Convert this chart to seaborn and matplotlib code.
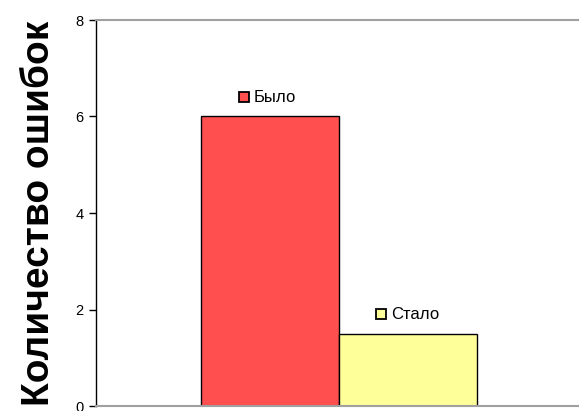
import seaborn as sns
import matplotlib.pyplot as plt
import matplotlib.transforms as mtransforms
import pandas as pd

# данные
labels = ["Было", "Стало"]
values = [6, 1.5]
colors = ["#ff4f4f", "#ffff99"]

df = pd.DataFrame({"grp": ["", ""], "state": labels, "count": values})

sns.set_style("white")
plt.rcParams['font.family'] = ['Liberation Sans', 'DejaVu Sans']
plt.rcParams['text.color'] = 'black'
plt.rcParams['axes.labelcolor'] = 'black'
plt.rcParams['ytick.color'] = 'black'

fig = plt.figure(figsize=(5.79, 4.11), dpi=100)
ax = fig.add_axes([96 / 579, 5 / 411, 486 / 579, 386 / 411])

sns.barplot(data=df, x="grp", y="count", hue="state", palette=colors, saturation=1,
            width=0.566, edgecolor="black", linewidth=1, ax=ax, legend=False)

ax.set_xlim(-0.5, 0.5)
ax.set_ylim(0, 8)
ax.set_yticks([0, 2, 4, 6, 8])
ax.set_xticks([])
ax.set_xlabel("")
ax.set_ylabel("Количество ошибок", fontsize=28, fontweight="bold", labelpad=13)
ax.tick_params(axis="y", left=True, length=5, width=1, labelsize=10.5, pad=4, color="black")

for side in ["top", "bottom"]:
    ax.spines[side].set_color("#a0a0a0")
    ax.spines[side].set_linewidth(1.5)
ax.spines["right"].set_visible(False)
ax.spines["left"].set_color("black")
ax.spines["left"].set_linewidth(1)

# подписи над столбцами с маркером-квадратиком
for bar, lab, col in zip(ax.patches, labels, colors):
    cx = bar.get_x() + bar.get_width() / 2
    top = bar.get_height()
    ax.annotate(lab, (cx, top), xytext=(-12, 14), textcoords="offset points",
                ha="left", va="center", fontsize=12)
    trans = mtransforms.offset_copy(ax.transData, fig=fig, x=-19, y=14, units="points")
    ax.plot([cx], [top], marker="s", markersize=6.5, markerfacecolor=col,
            markeredgecolor="black", markeredgewidth=1.3, transform=trans, clip_on=False)

fig.savefig("out.png", dpi=100)
